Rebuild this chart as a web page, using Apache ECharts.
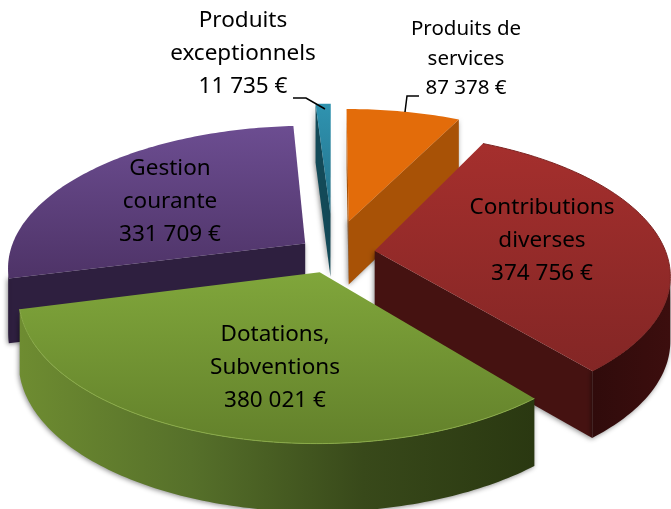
<!DOCTYPE html>
<html>
<head>
<meta charset="utf-8">
<style>html,body{margin:0;padding:0;background:#fff}#main{width:671px;height:509px}</style>
<script src="https://cdn.jsdelivr.net/npm/echarts@6/dist/echarts.min.js"></script>
</head>
<body>
<div id="main"></div>
<script>
var categories = ['Produits de\nservices', 'Contributions\ndiverses', 'Dotations,\nSubventions', 'Gestion\ncourante', 'Produits\nexceptionnels'];
var values = [87378, 374756, 380021, 331709, 11735];
var valueLabels = ['87 378 €', '374 756 €', '380 021 €', '331 709 €', '11 735 €'];

// look of each slice, same order as categories
var explode = [0.245, 0.145, 0.145, 0.12, 0.3];
var stretch = [1.025, 1.005, 1, 1.02, 1.02];
var paintOrder = [2, 3, 4, 0, 1];
var topColors = [['#e36c0a', '#e36c0a'], ['#a52f2d', '#832625'], ['#80a63b', '#63812b'], ['#6c4d91', '#4e3367'], ['#2f93b0', '#23728a']];
var radialColors = ['#a85206', '#451211', '#3d4f1c', '#2e1f3f', '#134a58'];
var rimColors = [['#a85206', '#a85206'], ['#300b0b', '#3c0e0e'], ['#6e8c31', '#56702a', '#38491a', '#2a3811'], ['#2e1f3f', '#2e1f3f'], ['#134a58', '#134a58']];
var edgeColors = [null, '#7c2422', '#8aab48', null, null];
var labelPos = [[466, 59, 20.5, 29.5], [542, 241, 22.5, 33], [275, 368, 22.5, 33], [170, 202, 22.5, 33], [243, 54, 22.5, 33]];
var leaders = [[[419, 96], [407, 96], [405, 112]], [[293, 98], [306, 98], [325, 109]]];

var cx = 333, cy = 253, R0 = 290, K = 137, u = 0.16, H = 64;
var total = values.reduce(function (a, b) { return a + b; }, 0);

function project(x, y, z) {
  var w = 1 + y * u;
  return [cx + R0 * x / w, cy - K * y / w + z * H * (1 - y * 0.06)];
}
function rad(d) { return d * Math.PI / 180; }
function area(p) {
  var s = 0;
  for (var i = 0; i < p.length; i++) {
    var q = p[(i + 1) % p.length];
    s += p[i][0] * q[1] - q[0] * p[i][1];
  }
  return s;
}
function vGrad(a, b) {
  return new echarts.graphic.LinearGradient(0, 0, 0, 1, [{ offset: 0, color: a }, { offset: 1, color: b }]);
}
function hGrad(colors) {
  return new echarts.graphic.LinearGradient(0, 0, 1, 0, colors.map(function (c, i) {
    return { offset: i / (colors.length - 1), color: c };
  }));
}

function renderSlice(params, api) {
  var i = params.dataIndex;
  var before = 0;
  for (var j = 0; j < i; j++) before += values[j];
  var a0 = before / total * 360;
  var a1 = (before + api.value(0)) / total * 360;
  var mid = rad((a0 + a1) / 2);
  var ox = Math.sin(mid) * explode[i], oy = Math.cos(mid) * explode[i];
  var r = stretch[i];
  var rim = function (d, z) {
    return project(ox + r * Math.sin(rad(d)), oy + r * Math.cos(rad(d)), z);
  };
  var apex = project(ox, oy, 0), apexLow = project(ox, oy, 1);
  var n = Math.max(2, Math.ceil(a1 - a0));
  var arcTop = [];
  for (var k = 0; k <= n; k++) arcTop.push(rim(a0 + (a1 - a0) * k / n, 0));
  var top = [apex].concat(arcTop);

  var children = [];
  var base = paintOrder[i] * 10;
  var shadow = { shadowBlur: 5, shadowColor: 'rgba(0,0,0,0.45)', shadowOffsetX: -1, shadowOffsetY: 1 };

  // side faces first, then the top
  var faces = [[apex, rim(a0, 0), rim(a0, 1), apexLow], [apex, rim(a1, 0), rim(a1, 1), apexLow]];
  var sign = [1, -1];
  faces.forEach(function (f, idx) {
    if (area(f) * sign[idx] < 0 && Math.abs(area(f)) > 1) {
      children.push({
        type: 'polygon',
        z2: base,
        shape: { points: f },
        style: Object.assign({ fill: radialColors[i] }, shadow)
      });
    }
  });

  // outer wall, only where it faces the viewer
  var lo = null, hi = null;
  for (var m = 0; m < n; m++) {
    var d0 = a0 + (a1 - a0) * m / n, d1 = a0 + (a1 - a0) * (m + 1) / n;
    if (rim(d1, 0)[0] < rim(d0, 0)[0]) {
      if (lo === null) lo = d0;
      hi = d1;
    }
  }
  if (lo !== null) {
    var wallUp = [], wallDown = [];
    var steps = Math.ceil(hi - lo);
    for (var q = 0; q <= steps; q++) {
      var d = lo + (hi - lo) * q / steps;
      wallUp.push(rim(d, 0));
      wallDown.unshift(rim(d, 1));
    }
    children.push({
      type: 'polygon',
      z2: base + 1,
      shape: { points: wallUp.concat(wallDown) },
      style: Object.assign({ fill: hGrad(rimColors[i]) }, shadow)
    });
  }

  children.push({
    type: 'polygon',
    z2: base + 2,
    shape: { points: top },
    style: { fill: vGrad(topColors[i][0], topColors[i][1]) }
  });
  if (edgeColors[i]) {
    children.push({
      type: 'polyline',
      z2: base + 3,
      shape: { points: arcTop },
      style: { fill: 'none', stroke: edgeColors[i], lineWidth: 1 }
    });
  }
  children.push({
    type: 'text',
    x: labelPos[i][0],
    y: labelPos[i][1],
    z2: 100,
    style: {
      text: categories[i] + '\n' + valueLabels[i],
      font: labelPos[i][2] + 'px "Noto Sans"',
      lineHeight: labelPos[i][3],
      fill: '#000',
      align: 'center',
      verticalAlign: 'middle'
    }
  });
  return { type: 'group', children: children };
}

var chart = echarts.init(document.getElementById('main'), null, { renderer: 'canvas' });
chart.setOption({
  animation: false,
  backgroundColor: '#fff',
  series: [
    {
      type: 'custom',
      coordinateSystem: 'none',
      renderItem: renderSlice,
      silent: true,
      data: values.map(function (v) { return [v]; }),
      encode: { value: 0 }
    }
  ],
  graphic: leaders.map(function (pts) {
    return {
      type: 'polyline',
      shape: { points: pts },
      style: { fill: 'none', stroke: '#000', lineWidth: 1.5 },
      z: 20
    };
  })
});
</script>
</body>
</html>
